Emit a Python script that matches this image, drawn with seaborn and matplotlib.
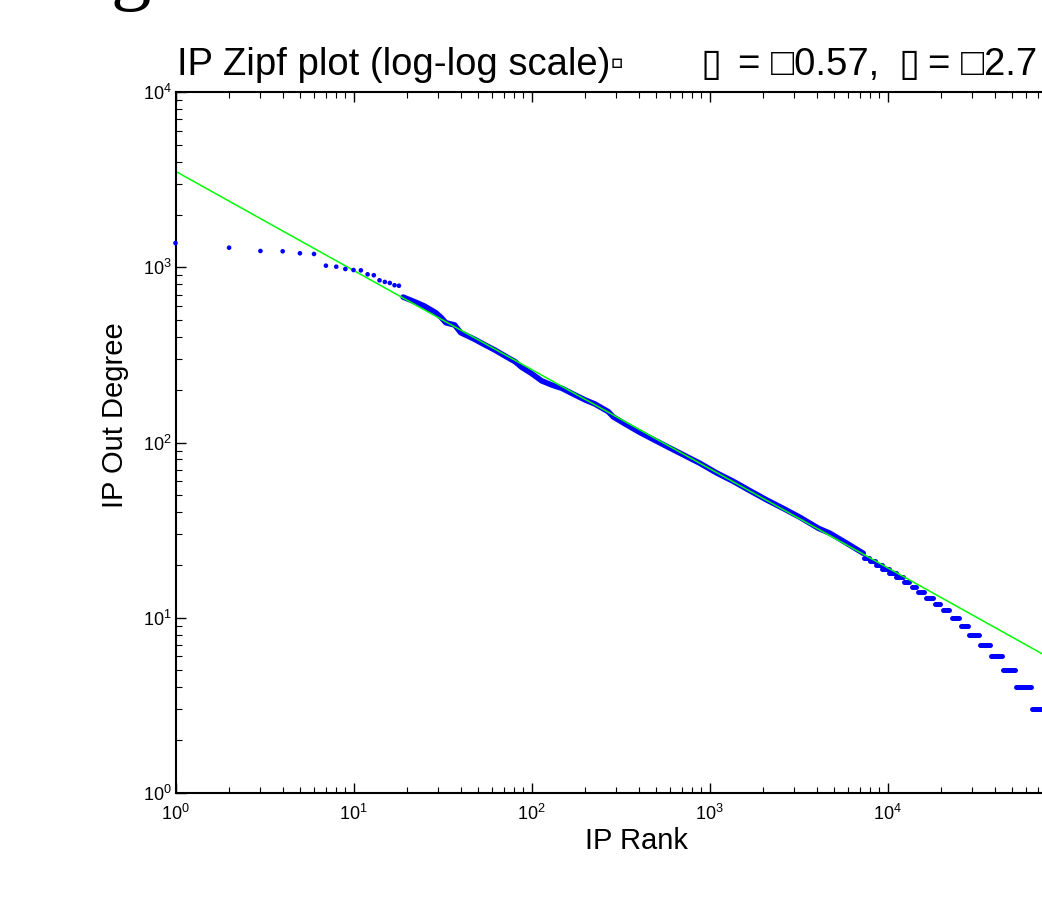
import numpy as np
import seaborn as sns
import matplotlib.pyplot as plt

# first ranked IPs, one dot each
top_rank = [1, 2, 3, 4, 5, 6, 7, 8, 9, 10, 11, 12, 13, 14, 15, 16, 17, 18]
top_degree = [1377, 1296, 1241, 1236, 1204, 1193, 1023, 1009, 979, 966,
              962, 913, 902, 844, 826, 815, 791, 786]

# dense middle of the curve
curve_rank = [19, 22, 25, 29, 31, 33, 37, 40, 48, 55, 62, 71, 81, 88, 100,
              114, 130, 148, 168, 200, 227, 270, 288, 343, 407, 484, 575,
              713, 885, 1097, 1361, 1689, 2095, 2600, 3223, 4085, 4755,
              5900, 7310]
curve_degree = [677, 637, 602, 551, 519, 483, 469, 424, 388, 360, 338, 312,
                289, 269, 248, 225, 213, 204, 191, 175, 166, 150, 140, 126,
                114, 104, 95, 85, 76, 67, 60, 53, 47, 42, 37.4, 32.4, 30.3,
                26.6, 23.3]

# integer out degrees in the tail: first and last rank of each plateau
step_degree = [22, 21, 20, 19, 18, 17, 16, 15, 14, 13, 12, 11, 10, 9, 8, 7,
               6, 5, 4, 3]
step_first = [7350, 7950, 8600, 9350, 10200, 11200, 12330, 13680, 14920,
              16550, 18580, 20420, 22950, 25780, 28840, 33110, 38000, 44370,
              52720, 64860]
step_last = [7900, 8550, 9300, 10150, 11100, 12200, 13250, 14520, 16030,
             18080, 19800, 22240, 25220, 28330, 32660, 37480, 43960, 52050,
             64270, 85000]

# power law fit, log10(degree) = intercept + slope * log10(rank)
fit_slope = -0.566
fit_intercept = 3.549
fit_rank = [1, 100000]

x_ticks = [1, 10, 100, 1000, 10000]
x_tick_labels = ["$10^{0}$", "$10^{1}$", "$10^{2}$", "$10^{3}$", "$10^{4}$"]

sns.set_theme(style="ticks", rc={"axes.edgecolor": "black", "xtick.color": "black",
                                 "ytick.color": "black", "text.color": "black",
                                 "axes.labelcolor": "black"})
plt.rcParams['font.family'] = ['Liberation Sans', 'DejaVu Sans']
plt.rcParams['mathtext.fontset'] = 'custom'
plt.rcParams['mathtext.rm'] = 'Liberation Sans'

W, H = 1042, 913
fig = plt.figure(figsize=(W / 100, H / 100), dpi=100)
ax = fig.add_axes([175.5 / W, 1 - 792.7 / H, 890 / W, 700.4 / H])
ax.set_xscale('log')
ax.set_yscale('log')

blue = '#0000ff'
sns.lineplot(x=curve_rank, y=curve_degree, ax=ax, color=blue, lw=4,
             sort=False, estimator=None, solid_capstyle='round', solid_joinstyle='round')
ax.hlines(step_degree, step_first, step_last, colors=blue, lw=3.6, capstyle='round')
sns.scatterplot(x=top_rank, y=top_degree, ax=ax, color=blue, s=11, edgecolor='none',
                clip_on=False, zorder=5)

fit_x = np.array(fit_rank, dtype=float)
sns.lineplot(x=fit_x, y=10 ** fit_intercept * fit_x ** fit_slope, ax=ax,
             color='#00ff00', lw=1.1)

ax.set_xlim(1, 1e5)
ax.set_ylim(1, 1e4)
ax.set_xticks(x_ticks, x_tick_labels)
for s in ax.spines.values():
    s.set_linewidth(1.5)
ax.tick_params(which='both', direction='in', top=True, right=True, labelsize=13)
ax.tick_params(which='major', length=7, width=1)
ax.tick_params(which='minor', length=4.5, width=0.8)
ax.tick_params(axis='x', pad=8)
ax.tick_params(axis='y', pad=3)

fig.text(636 / W, 1 - 841 / H, "IP Rank", fontsize=21, ha='center', va='center')
fig.text(115 / W, 1 - 415 / H, "IP Out Degree", fontsize=21, ha='center',
         va='center', rotation=90)

# title, with the symbol glyphs that came out as boxes
base = 1 - 75 / H
fig.text(177 / W, base, "IP Zipf plot (log-log scale)\u25ab", fontsize=27.5,
         ha='left', va='baseline')
fig.text(701 / W, base, "\u25af", fontsize=27.5, ha='left', va='baseline')
fig.text(738 / W, base, "= \u25a10.57,", fontsize=27.5, ha='left', va='baseline')
fig.text(899 / W, base, "\u25af", fontsize=27.5, ha='left', va='baseline')
fig.text(928 / W, base, "= \u25a12.7", fontsize=27.5, ha='left', va='baseline')
# tail of a letter from the slide heading above, cut by the crop
fig.text(110 / W, 1 + 5 / H, "g", fontsize=58, family='Liberation Serif',
         ha='left', va='baseline')

fig.savefig('out.png', dpi=100)
